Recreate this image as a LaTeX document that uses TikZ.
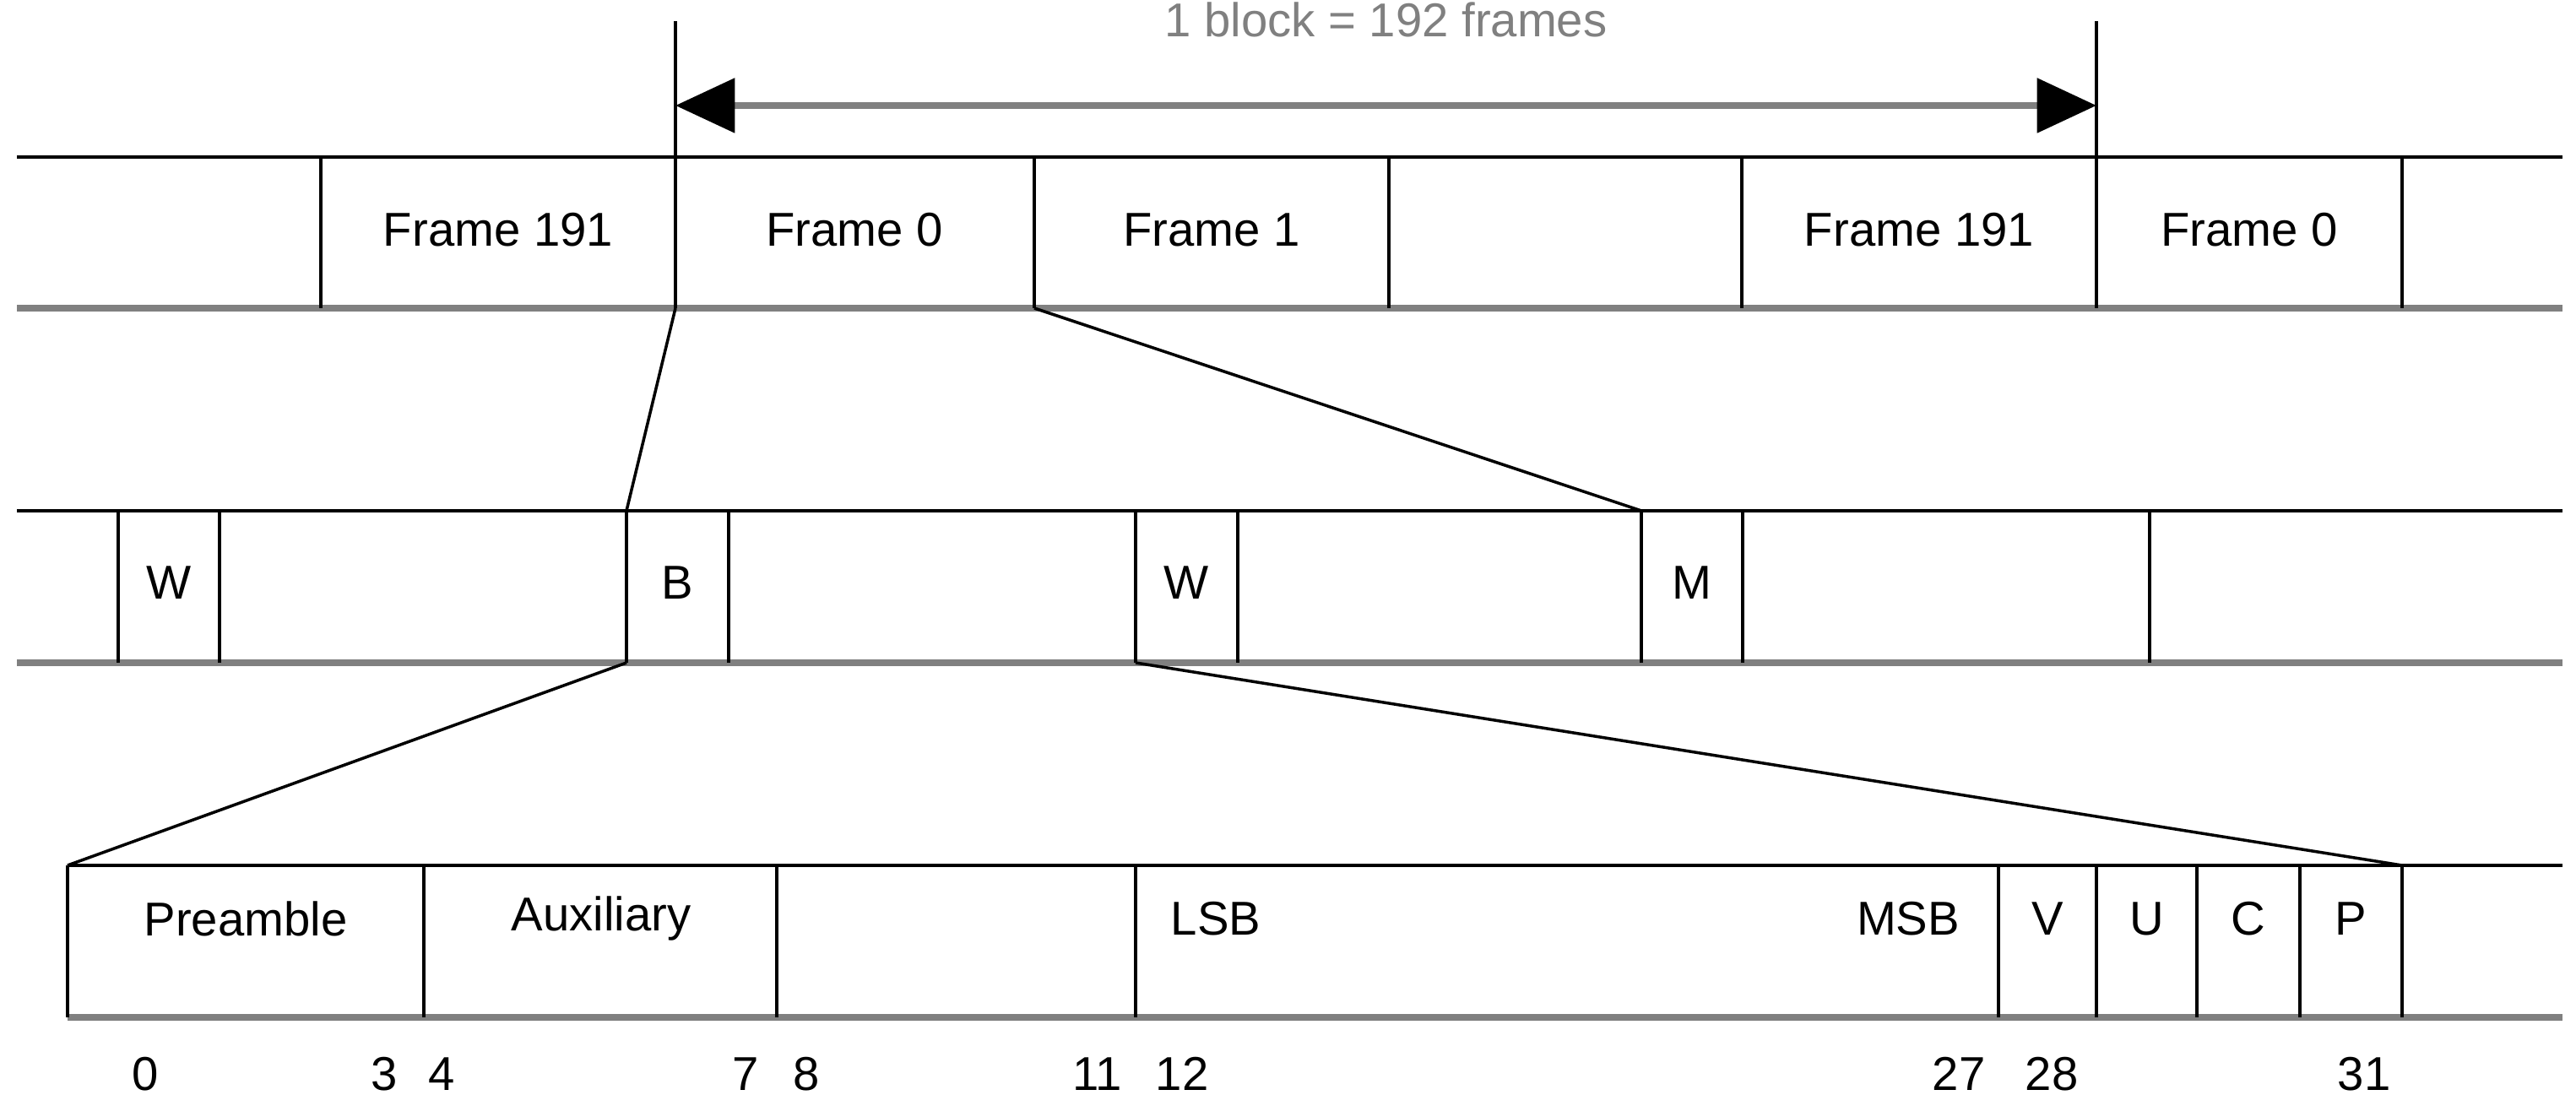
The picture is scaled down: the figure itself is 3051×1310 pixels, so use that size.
\documentclass[tikz,border=0pt]{standalone}
\usepackage{fontspec}
\setmainfont{Liberation Sans}
\usetikzlibrary{arrows.meta}
\tikzstyle{topline}=[line width=1.4pt,black]
\tikzstyle{botline}=[line width=2.3pt,black!50]
\tikzstyle{tick}=[line width=1pt,black]
\tikzstyle{lbl}=[font=\fontsize{16}{18}\selectfont,inner sep=0pt]
\tikzstyle{zoomline}=[line width=1pt,black]
\tikzstyle{span}=[line width=2.3pt,black!50,{Triangle[black,length=20pt,width=18pt]}-{Triangle[black,length=20pt,width=18pt]}]

\begin{document}
\begin{tikzpicture}[x=0.01cm,y=-0.01cm]
    \useasboundingbox (0,0) rectangle (3051,1310);
    % frame row
    \draw [topline] (20,186) -- (3035,186);
    \draw [botline] (20,365) -- (3035,365);
    \foreach \x in {380,1225,1645,2063,2845}
        \draw [tick] (\x,186) -- (\x,365);
    \draw [tick] (800,25) -- (800,365);
    \draw [tick] (2483,25) -- (2483,186);
    \draw [tick] (2483,186) -- (2483,365);
    \node (f191a) [lbl] at (590,272) {Frame 191};
    \node (f0a) [lbl] at (1012,272) {Frame 0};
    \node (f1) [lbl] at (1435,272) {Frame 1};
    \node (f191b) [lbl] at (2273,272) {Frame 191};
    \node (f0b) [lbl] at (2664,272) {Frame 0};
    \coordinate (blkl) at (800,125);
    \coordinate (blkr) at (2483,125);
    \draw [span] (blkl) -- node[lbl,above=22pt] (blk) {1 block = 192 frames} (blkr);
    % subframe row
    \draw [topline] (20,605) -- (3035,605);
    \draw [botline] (20,785) -- (3035,785);
    \foreach \x in {140,260,742,863,1345,1466,1944,2064,2546}
        \draw [tick] (\x,605) -- (\x,785);
    \node (pw1) [lbl] at (200,690) {W};
    \node (pb) [lbl] at (802,690) {B};
    \node (pw2) [lbl] at (1405,690) {W};
    \node (pm) [lbl] at (2004,690) {M};
    % bit row
    \draw [topline] (80,1025) -- (3035,1025);
    \draw [botline] (80,1205) -- (3035,1205);
    \foreach \x in {80,502,920,1345,2367,2483,2602,2724,2845}
        \draw [tick] (\x,1025) -- (\x,1205);
    \node (pre) [lbl] at (291,1088) {Preamble};
    \node (aux) [lbl] at (712,1088) {Auxiliary};
    \node (lsb) [lbl] at (1440,1088) {LSB};
    \node (msb) [lbl] at (2260,1088) {MSB};
    \node (bv) [lbl] at (2425,1088) {V};
    \node (bu) [lbl] at (2543,1088) {U};
    \node (bc) [lbl] at (2663,1088) {C};
    \node (bp) [lbl] at (2784,1088) {P};
    \foreach \x/\n in {172/0,455/3,523/4,883/7,955/8,1300/11,1400/12,2320/27,2430/28,2800/31}
        \node (n\n) [lbl] at (\x,1272) {\n};
    % zoom lines
    \coordinate (a1) at (800,365);  \coordinate (a2) at (742,605);
    \coordinate (b1) at (1225,365); \coordinate (b2) at (1944,605);
    \coordinate (c1) at (742,785);  \coordinate (c2) at (80,1025);
    \coordinate (d1) at (1345,785); \coordinate (d2) at (2845,1025);
    \draw [zoomline] (a1) -- (a2);
    \draw [zoomline] (b1) -- (b2);
    \draw [zoomline] (c1) -- (c2);
    \draw [zoomline] (d1) -- (d2);
\end{tikzpicture}
\end{document}
